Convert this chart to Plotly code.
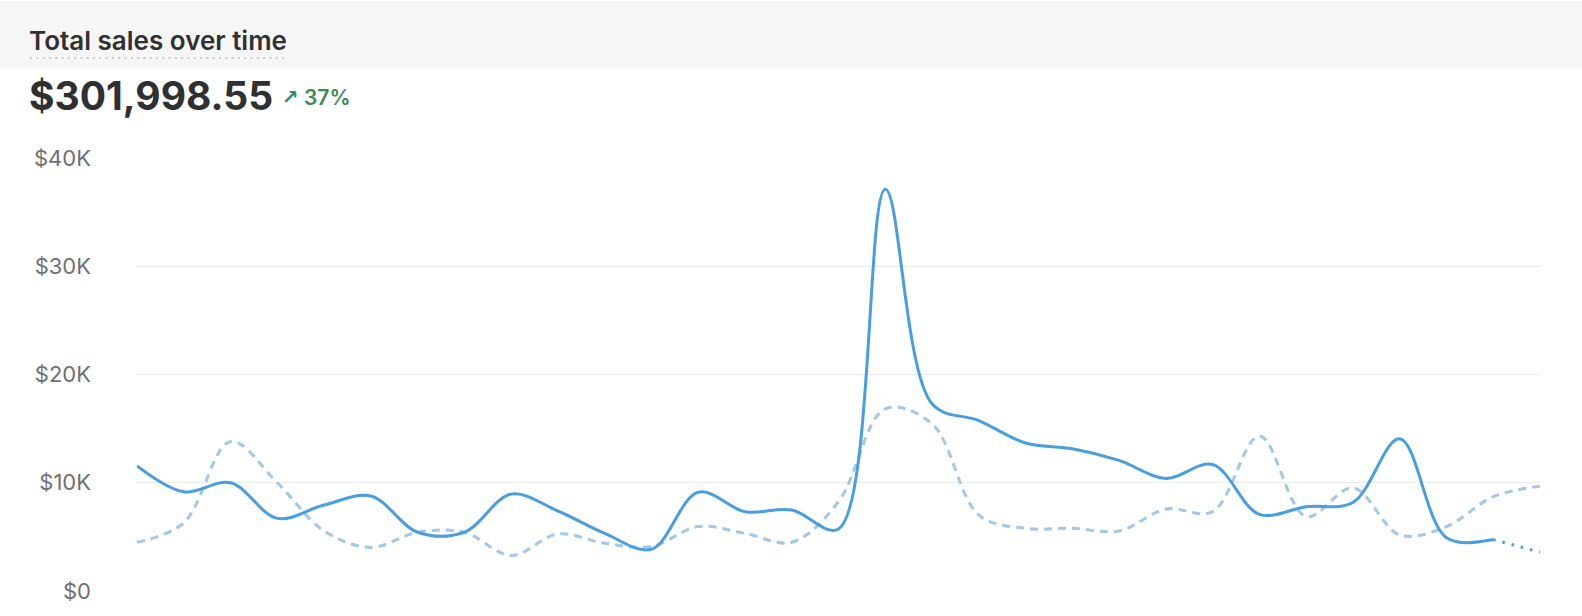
import plotly.graph_objects as go

# ---- data ----
days = list(range(1, 32))
current_sales = [11.56, 9.17, 10.0, 6.71, 7.94, 8.77, 5.43, 5.43, 8.95, 7.39,
                 5.33, 3.86, 9.13, 7.33, 7.48, 5.73, 37.12, 17.29, 15.75, 13.67,
                 13.15, 12.07, 10.39, 11.68, 7.08, 7.79, 8.18, 14.07, 4.93, 4.75,
                 3.59]
previous_sales = [4.5, 6.3, 13.82, 10.0, 5.55, 4.02, 5.43, 5.43, 3.28, 5.27,
                  4.41, 4.11, 5.95, 5.33, 4.5, 8.25, 16.83, 15.45, 7.02, 5.79,
                  5.79, 5.55, 7.57, 7.33, 14.32, 6.87, 9.53, 5.18, 5.95, 8.71,
                  9.68]
current_sales = [v * 1000 for v in current_sales]
previous_sales = [v * 1000 for v in previous_sales]
tick_vals = [0, 10000, 20000, 30000, 40000]
tick_text = ["$0", "$10K", "$20K", "$30K", "$40K"]
title_text = "Total sales over time"
total_text = "$301,998.55"
change_text = "37%"

# ---- layout geometry (pixels) ----
W, H = 1582, 616
L, R, T, B = 137, 1540, 158, 593

def px(x):
    return (x - L) / (R - L)

def py(y):
    return (B - y) / (B - T)

SOLID = "rgb(72,158,225)"
PREV = "rgb(162,200,230)"
SM = 1.0

fig = go.Figure()

fig.add_trace(go.Scatter(
    x=days, y=previous_sales, mode="lines",
    line=dict(color=PREV, width=3, dash="8px,6px", shape="spline", smoothing=SM),
    hoverinfo="skip", showlegend=False, cliponaxis=False))

n = len(days) - 1
fig.add_trace(go.Scatter(
    x=days[:n], y=current_sales[:n], mode="lines",
    line=dict(color=SOLID, width=3, shape="spline", smoothing=SM),
    hoverinfo="skip", showlegend=False, cliponaxis=False))
fig.add_trace(go.Scatter(
    x=days[n - 1:], y=current_sales[n - 1:], mode="lines",
    line=dict(color=SOLID, width=3, dash="2.5px,7px", shape="spline", smoothing=SM),
    hoverinfo="skip", showlegend=False, cliponaxis=False))

fig.update_layout(
    width=W, height=H,
    margin=dict(l=L, r=W - R, t=T, b=H - B, pad=0),
    paper_bgcolor="white", plot_bgcolor="white",
    font=dict(family="Inter, Noto Sans, sans-serif"),
    xaxis=dict(visible=False, range=[days[0], days[-1]], fixedrange=True),
    yaxis=dict(range=[0, 40000], tickvals=tick_vals, ticktext=tick_text,
               showgrid=True, gridcolor="#ebebeb", gridwidth=1.3,
               zeroline=False, showline=False, ticks="",
               ticklabelstandoff=45, fixedrange=True,
               tickfont=dict(family="Inter", size=22, color="#707070")),
    shapes=[
        dict(type="rect", xref="paper", yref="paper",
             x0=px(0), x1=px(W), y0=py(68), y1=py(0),
             fillcolor="#f6f6f6", line=dict(width=0), layer="below"),
        dict(type="line", xref="paper", yref="paper",
             x0=px(30), x1=px(285), y0=py(57.5), y1=py(57.5),
             line=dict(color="#c9c9c9", width=2, dash="2px,4.3px")),
    ],
    annotations=[
        dict(text=title_text, xref="paper", yref="paper", x=px(27), y=py(40),
             xanchor="left", yanchor="middle", showarrow=False,
             font=dict(family="Inter", size=26, color="#303030", weight=600)),
        dict(text=total_text, xref="paper", yref="paper", x=px(27), y=py(95),
             xanchor="left", yanchor="middle", showarrow=False,
             font=dict(family="Inter", size=39, color="#303030", weight=700)),
        dict(text="↗", xref="paper", yref="paper", x=px(280), y=py(97),
             xanchor="left", yanchor="middle", showarrow=False,
             font=dict(family="DejaVu Sans", size=20, color="#3d8a56", weight=700)),
        dict(text=change_text, xref="paper", yref="paper", x=px(302), y=py(97),
             xanchor="left", yanchor="middle", showarrow=False,
             font=dict(family="Inter", size=21, color="#3d8a56", weight=600)),
    ],
)

fig.write_html("out.html", config={"displayModeBar": False},
               post_script="document.body.style.margin='0';")
